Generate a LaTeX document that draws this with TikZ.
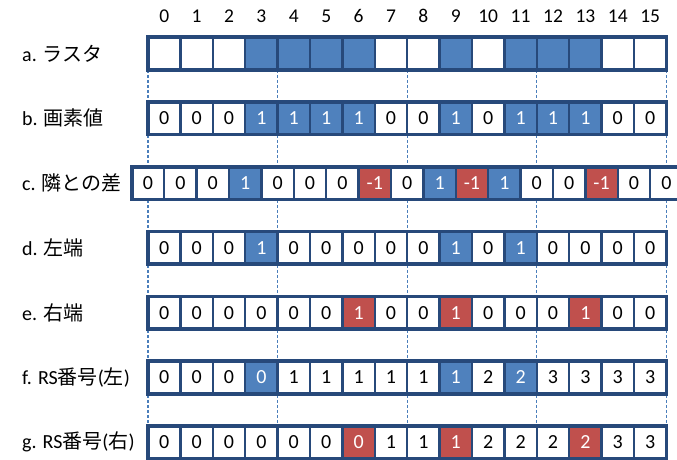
\documentclass[tikz,border=0pt]{standalone}
\usepackage{fontspec}
\setmainfont{Carlito}
\newfontfamily\jp{Noto Sans CJK JP}
\usetikzlibrary{backgrounds}
\definecolor{rsframe}{RGB}{39,73,122}
\definecolor{rsblue}{RGB}{79,129,189}
\definecolor{rsred}{RGB}{192,80,77}
\definecolor{rsguide}{RGB}{74,126,187}
\tikzset{
  cw/.style={draw=rsframe, line width=2.4pt, fill=white, inner sep=0pt, outer sep=0pt,
    minimum width=32.4pt, minimum height=32.6pt, font=\fontsize{20}{22}\selectfont},
  cb/.style={cw, fill=rsblue, text=white},
  cr/.style={cw, fill=rsred, text=white},
  rowframe/.style={draw=rsframe, line width=3.6pt},
  guide/.style={draw=rsguide, line width=1.1pt, dash pattern=on 3pt off 2pt},
  rowlabel/.style={anchor=west, inner sep=0pt, font=\fontsize{20}{22}\selectfont},
}
\begin{document}
\begin{tikzpicture}[x=1pt,y=-1pt]
    \useasboundingbox (0,0) rectangle (677,460);
    \clip (0,0) rectangle (677,460);
    % numeri di colonna
    \foreach \i in {0,...,15}{\node[font=\fontsize{19.5}{21}\selectfont] (h\i) at ({148+32.4*(\i+0.5)},16) {\i};}
    % a. raster
    \foreach \s [count=\i from 0] in {cw,cw,cw,cb,cb,cb,cb,cw,cw,cb,cw,cb,cb,cb,cw,cw}
      {\node[\s] (a\i) at ({148+32.4*(\i+0.5)},53.5) {};}
    % b. valori
    \foreach \v/\s [count=\i from 0] in {0/cw,0/cw,0/cw,1/cb,1/cb,1/cb,1/cb,0/cw,0/cw,1/cb,0/cw,1/cb,1/cb,1/cb,0/cw,0/cw}
      {\node[\s] (b\i) at ({148+32.4*(\i+0.5)},118.3) {\v};}
    % c. differenze (spostate di mezza cella)
    \foreach \v/\s [count=\i from 0] in {0/cw,0/cw,0/cw,1/cb,0/cw,0/cw,0/cw,-1/cr,0/cw,1/cb,-1/cr,1/cb,0/cw,0/cw,-1/cr,0/cw,0/cw}
      {\node[\s] (c\i) at ({131.8+32.4*(\i+0.5)},183.1) {\v};}
    % d. bordo sinistro
    \foreach \v/\s [count=\i from 0] in {0/cw,0/cw,0/cw,1/cb,0/cw,0/cw,0/cw,0/cw,0/cw,1/cb,0/cw,1/cb,0/cw,0/cw,0/cw,0/cw}
      {\node[\s] (d\i) at ({148+32.4*(\i+0.5)},247.9) {\v};}
    % e. bordo destro
    \foreach \v/\s [count=\i from 0] in {0/cw,0/cw,0/cw,0/cw,0/cw,0/cw,1/cr,0/cw,0/cw,1/cr,0/cw,0/cw,0/cw,1/cr,0/cw,0/cw}
      {\node[\s] (e\i) at ({148+32.4*(\i+0.5)},312.7) {\v};}
    % f. RS sinistro
    \foreach \v/\s [count=\i from 0] in {0/cw,0/cw,0/cw,0/cb,1/cw,1/cw,1/cw,1/cw,1/cw,1/cb,2/cw,2/cb,3/cw,3/cw,3/cw,3/cw}
      {\node[\s] (f\i) at ({148+32.4*(\i+0.5)},377.5) {\v};}
    % g. RS destro
    \foreach \v/\s [count=\i from 0] in {0/cw,0/cw,0/cw,0/cw,0/cw,0/cw,0/cr,1/cw,1/cw,1/cr,2/cw,2/cw,2/cw,2/cr,3/cw,3/cw}
      {\node[\s] (g\i) at ({148+32.4*(\i+0.5)},442.3) {\v};}
    % cornici
    \foreach \r/\n in {a/15,b/15,c/16,d/15,e/15,f/15,g/15}
      {\draw[rowframe] (\r0.north west) rectangle (\r\n.south east);}
    % guide tratteggiate
    \begin{pgfonlayer}{background}
      \foreach \k in {0,4,8,12}{\draw[guide] (a\k.south west) -- (g\k.north west);}
      \draw[guide] (a15.south east) -- (g15.north east);
    \end{pgfonlayer}
    % etichette
    \node[rowlabel] (la) at (22,53.5)  {a. {\jp ラスタ}};
    \node[rowlabel] (lb) at (22,118.3) {b. {\jp 画素値}};
    \node[rowlabel] (lc) at (22,183.1) {c. {\jp 隣との差}};
    \node[rowlabel] (ld) at (22,247.9) {d. {\jp 左端}};
    \node[rowlabel] (le) at (22,312.7) {e. {\jp 右端}};
    \node[rowlabel] (lf) at (22,377.5) {f. RS{\jp 番号}({\jp 左})};
    \node[rowlabel] (lg) at (22,442.3) {g. RS{\jp 番号}({\jp 右})};
  \end{tikzpicture}
\end{document}
